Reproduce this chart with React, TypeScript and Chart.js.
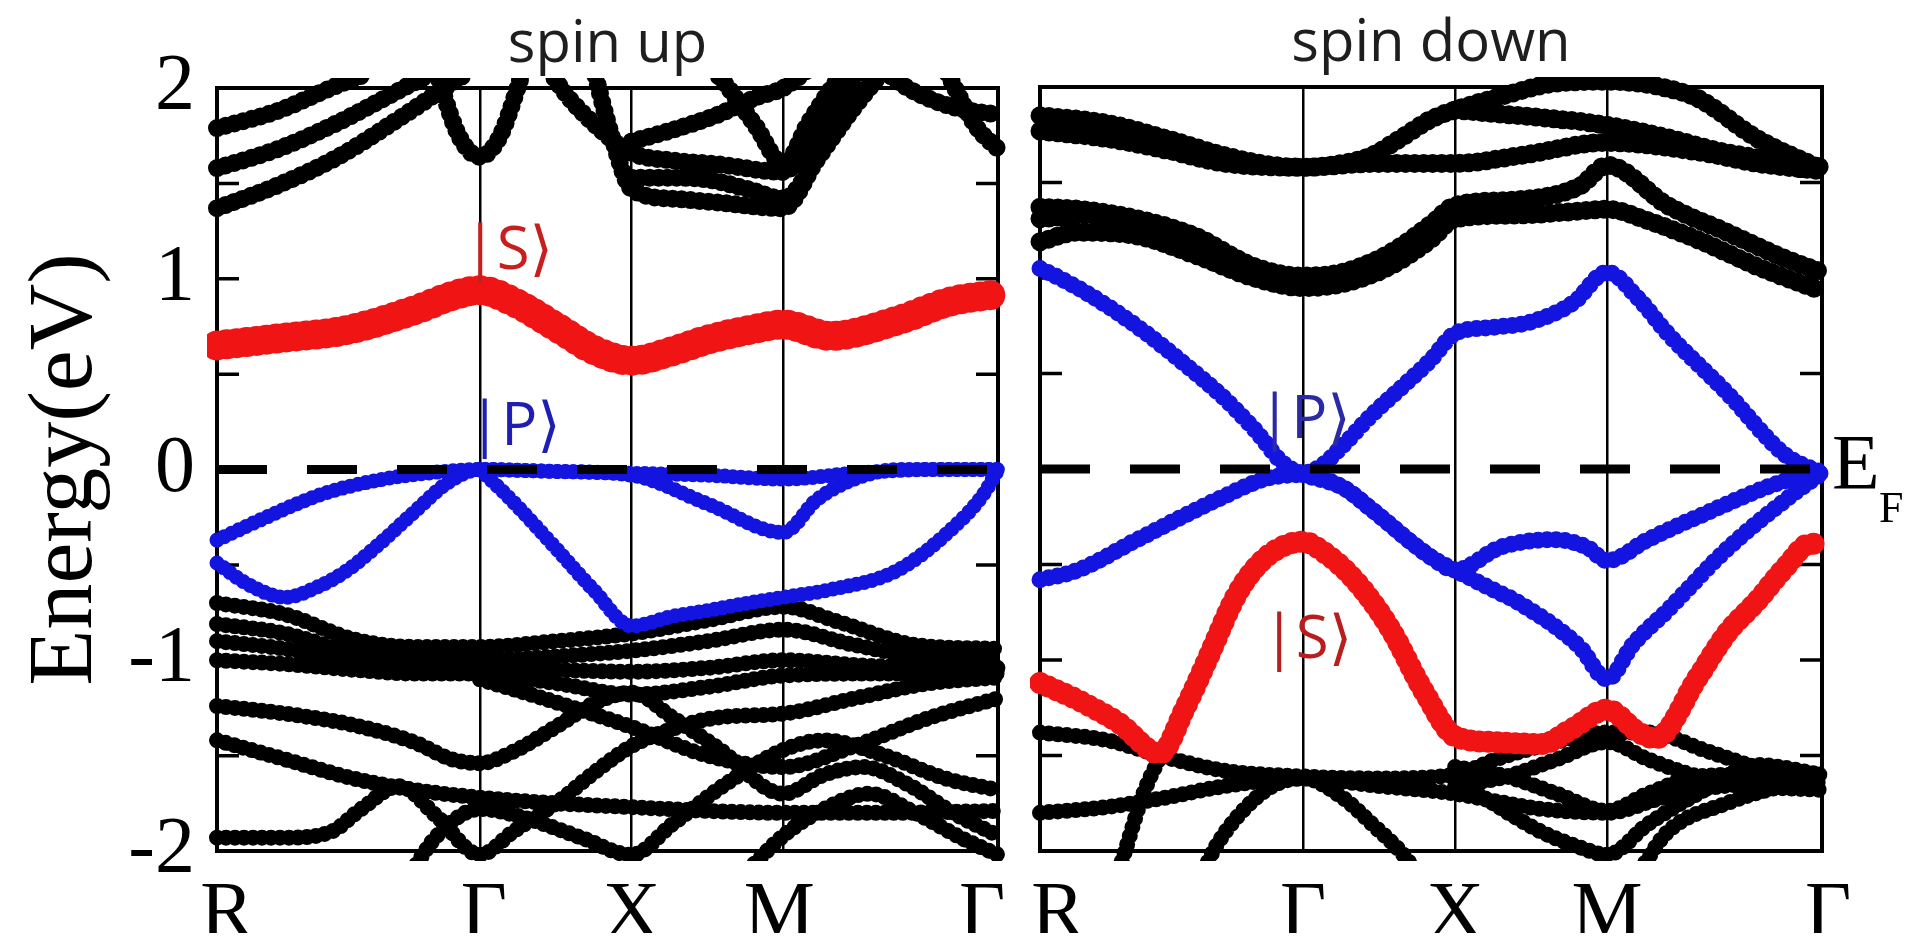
import React, { useEffect, useRef } from 'react';
import { Chart, registerables } from 'chart.js';

Chart.register(...registerables);

type Pt = [number, number];

// ---- axes ----
// k-path distances: R–Γ = √3, Γ–X = 1, X–M = 1, M–Γ = √2
const kTicks = [0, 1.732, 2.732, 3.732, 5.146];
const kLabels = ['R', 'Γ', 'X', 'M', 'Γ'];
const eTicks = [-2, -1.5, -1, -0.5, 0, 0.5, 1, 1.5, 2];
const eLabelled = [-2, -1, 0, 1, 2];

// ---- spin up ----
const upS: Pt[] = [[0,0.65],[0.43,0.69],[0.85,0.73],[1.32,0.84],[1.55,0.91],[1.732,0.94],[1.95,0.88],[2.23,0.75],[2.5,0.62],[2.732,0.57],[3.0,0.62],[3.23,0.68],[3.5,0.73],[3.732,0.76],[4.04,0.70],[4.48,0.78],[4.83,0.88],[5.146,0.92]];
const upP1: Pt[] = [[0,-0.37],[0.27,-0.27],[0.69,-0.13],[1.1,-0.05],[1.5,-0.01],[1.732,0],[2.232,-0.01],[2.732,-0.02],[3.232,-0.03],[3.732,-0.05],[4.2,-0.02],[4.7,0],[5.146,0]];
const upP2: Pt[] = [[0,-0.49],[0.2,-0.6],[0.45,-0.67],[0.65,-0.62],[0.855,-0.53],[1.07,-0.39],[1.29,-0.23],[1.52,-0.07],[1.732,0],[2.232,-0.01],[2.732,-0.03],[3.232,-0.18],[3.732,-0.33],[3.95,-0.16],[4.2,-0.05],[4.5,0],[5.146,0]];
const upP3: Pt[] = [[1.732,0],[1.94,-0.16],[2.23,-0.41],[2.48,-0.63],[2.732,-0.82],[3.0,-0.77],[3.232,-0.74],[3.5,-0.7],[3.732,-0.67],[4.04,-0.63],[4.48,-0.53],[4.83,-0.32],[5.05,-0.13],[5.146,0]];

const upT1: Pt[] = [[0,1.79],[0.4,1.88],[0.75,2.0],[1.0,2.08]];
const upT2: Pt[] = [[0,1.58],[0.4,1.68],[0.8,1.82],[1.23,2.0],[1.4,2.07]];
const upT3: Pt[] = [[0,1.37],[0.4,1.49],[0.8,1.64],[1.2,1.84],[1.5,2.0],[1.65,2.08]];
const upT4: Pt[] = [[1.3,2.5],[1.48,2.0],[1.6,1.74],[1.732,1.64],[1.86,1.74],[1.98,2.0],[2.15,2.45]];
const upT5: Pt[] = [[2.05,2.3],[2.25,2.02],[2.5,1.8],[2.732,1.66],[3.0,1.62],[3.3,1.6],[3.732,1.56],[3.95,1.78],[4.15,2.0],[4.35,2.2]];
const upT6: Pt[] = [[2.45,2.2],[2.6,1.75],[2.732,1.47],[3.0,1.42],[3.3,1.40],[3.732,1.37],[3.95,1.62],[4.2,1.9],[4.35,2.05],[4.5,2.2]];
const upT7: Pt[] = [[2.732,1.53],[3.0,1.53],[3.232,1.52],[3.5,1.47],[3.732,1.42],[4.0,1.7],[4.2,1.92],[4.4,2.1]];
const upT8: Pt[] = [[3.15,2.2],[3.35,2.02],[3.55,1.8],[3.732,1.6],[3.9,1.82],[4.05,2.0],[4.2,2.15]];
const upT9: Pt[] = [[2.732,1.72],[3.0,1.78],[3.3,1.86],[3.55,1.95],[3.732,2.0],[3.9,2.1]];
const upT10: Pt[] = [[4.55,2.5],[4.85,2.02],[5.0,1.8],[5.146,1.68]];
const upT11: Pt[] = [[4.3,2.15],[4.55,2.0],[4.85,1.9],[5.146,1.86]];

const upL1: Pt[] = [[0,-0.70],[0.45,-0.76],[0.9,-0.89],[1.3,-0.93],[1.732,-0.93],[2.232,-0.9],[2.732,-0.86],[3.232,-0.79],[3.732,-0.72],[4.1,-0.8],[4.6,-0.92],[5.146,-0.94]];
const upL2: Pt[] = [[0,-0.81],[0.45,-0.86],[0.9,-0.96],[1.3,-0.99],[1.732,-1.0],[2.232,-0.98],[2.732,-0.95],[3.232,-0.9],[3.732,-0.84],[4.2,-0.92],[4.7,-0.99],[5.146,-1.0]];
const upL3: Pt[] = [[0,-0.90],[0.45,-0.94],[0.9,-1.0],[1.3,-1.03],[1.732,-1.03],[2.232,-1.05],[2.732,-1.06],[3.232,-1.04],[3.732,-1.0],[4.3,-1.03],[5.146,-1.04]];
const upL4: Pt[] = [[0,-1.0],[0.45,-1.02],[0.9,-1.05],[1.3,-1.07],[1.732,-1.07],[2.232,-1.12],[2.732,-1.18],[3.232,-1.14],[3.732,-1.08],[4.3,-1.07],[5.146,-1.07]];
const upL5: Pt[] = [[0,-1.24],[0.45,-1.28],[0.9,-1.34],[1.3,-1.43],[1.55,-1.52],[1.732,-1.54],[1.95,-1.48],[2.232,-1.35],[2.5,-1.22],[2.732,-1.17],[3.0,-1.3],[3.3,-1.46],[3.732,-1.7],[4.0,-1.6],[4.26,-1.56],[4.55,-1.65],[4.85,-1.8],[5.146,-1.92]];
const upL6: Pt[] = [[0,-1.42],[0.45,-1.52],[0.9,-1.62],[1.3,-1.68],[1.732,-1.72],[2.232,-1.75],[2.732,-1.77],[3.232,-1.79],[3.732,-1.8],[4.4,-1.8],[5.146,-1.79]];
const upL7: Pt[] = [[0,-1.93],[0.45,-1.93],[0.75,-1.9],[0.95,-1.78],[1.2,-1.66],[1.45,-1.82],[1.732,-2.02],[1.95,-1.9],[2.25,-1.74],[2.5,-1.58],[2.732,-1.45],[3.0,-1.36],[3.3,-1.3],[3.732,-1.28],[4.2,-1.2],[4.7,-1.12],[5.146,-1.09]];
const upL8: Pt[] = [[1.25,-2.15],[1.45,-1.92],[1.732,-1.78],[2.0,-1.82],[2.4,-1.93],[2.732,-2.02],[3.0,-1.86],[3.35,-1.65],[3.732,-1.47],[4.0,-1.42],[4.4,-1.5],[4.8,-1.62],[5.146,-1.68]];
const upL9: Pt[] = [[3.5,-2.1],[3.732,-1.92],[4.0,-1.78],[4.3,-1.7],[4.6,-1.8],[4.9,-1.93],[5.146,-2.02]];
const upL10: Pt[] = [[1.732,-1.1],[2.232,-1.22],[2.732,-1.35],[3.232,-1.5],[3.732,-1.56],[4.2,-1.45],[4.7,-1.3],[5.146,-1.2]];

// ---- spin down ----
const dnS: Pt[] = [[0,-1.12],[0.25,-1.21],[0.52,-1.33],[0.79,-1.49],[0.95,-1.26],[1.10,-1.0],[1.30,-0.65],[1.49,-0.46],[1.732,-0.38],[1.84,-0.42],[2.07,-0.58],[2.30,-0.83],[2.53,-1.17],[2.732,-1.40],[3.0,-1.43],[3.3,-1.44],[3.5,-1.36],[3.732,-1.26],[3.94,-1.38],[4.05,-1.41],[4.33,-1.09],[4.52,-0.86],[4.72,-0.69],[4.91,-0.51],[5.07,-0.39],[5.146,-0.4]];
const dnP1: Pt[] = [[0,1.05],[0.2,0.97],[0.45,0.85],[0.7,0.71],[0.95,0.55],[1.2,0.38],[1.42,0.2],[1.6,0.03],[1.732,-0.02],[1.84,0.01],[1.99,0.12],[2.18,0.28],[2.37,0.42],[2.57,0.57],[2.732,0.71],[2.96,0.74],[3.23,0.77],[3.51,0.87],[3.732,1.03],[3.94,0.89],[4.13,0.71],[4.52,0.40],[4.91,0.07],[5.146,-0.02]];
const dnP2: Pt[] = [[0,-0.58],[0.25,-0.53],[0.64,-0.37],[1.22,-0.14],[1.49,-0.05],[1.732,-0.03],[2.0,-0.1],[2.18,-0.21],[2.57,-0.46],[2.732,-0.53],[3.03,-0.41],[3.39,-0.37],[3.6,-0.41],[3.732,-0.48],[4.0,-0.37],[4.33,-0.25],[4.91,-0.06],[5.146,-0.02]];
const dnP3: Pt[] = [[1.732,-0.03],[2.0,-0.1],[2.18,-0.21],[2.57,-0.46],[2.732,-0.53],[2.95,-0.62],[3.15,-0.70],[3.55,-0.93],[3.732,-1.10],[3.9,-0.92],[4.13,-0.74],[4.52,-0.42],[4.91,-0.16],[5.146,-0.02]];

const dnT1: Pt[] = [[0,1.85],[0.44,1.81],[0.83,1.73],[1.22,1.64],[1.53,1.59],[1.732,1.58],[1.99,1.60],[2.18,1.64],[2.37,1.73],[2.57,1.83],[2.732,1.88],[3.03,1.95],[3.39,2.02],[3.732,2.03],[4.09,2.0],[4.33,1.94],[4.72,1.73],[5.146,1.57]];
const dnT2: Pt[] = [[0,1.77],[0.44,1.73],[0.83,1.67],[1.22,1.60],[1.732,1.58],[2.2,1.60],[2.732,1.60],[3.15,1.64],[3.732,1.71],[4.33,1.66],[4.72,1.60],[5.146,1.56]];
const dnT3: Pt[] = [[2.732,1.88],[3.0,1.86],[3.3,1.84],[3.732,1.80],[4.1,1.74],[4.5,1.66],[5.146,1.58]];
const dnT4: Pt[] = [[0,1.37],[0.25,1.36],[0.64,1.31],[1.02,1.22],[1.41,1.06],[1.732,1.01],[1.99,1.03],[2.30,1.13],[2.57,1.28],[2.732,1.38],[3.15,1.41],[3.55,1.48],[3.732,1.59],[4.13,1.38],[4.52,1.24],[4.91,1.10],[5.146,1.03]];
const dnT5: Pt[] = [[0,1.19],[0.25,1.24],[0.64,1.22],[1.02,1.12],[1.41,1.0],[1.732,0.95],[1.99,0.97],[2.30,1.06],[2.57,1.2],[2.732,1.31],[3.15,1.33],[3.55,1.35],[3.732,1.36],[4.0,1.3],[4.33,1.20],[4.72,1.06],[5.146,0.93]];
const dnT6: Pt[] = [[0,1.31],[0.3,1.33],[0.64,1.28],[1.02,1.17],[1.41,1.03],[1.732,0.98],[2.0,1.0],[2.3,1.1]];

const dnL1: Pt[] = [[0,-1.38],[0.44,-1.42],[0.83,-1.51],[1.22,-1.58],[1.732,-1.61],[2.232,-1.62],[2.732,-1.6],[3.0,-1.52],[3.3,-1.45],[3.732,-1.38],[4.0,-1.38],[4.4,-1.48],[4.8,-1.58],[5.146,-1.62]];
const dnL2: Pt[] = [[0,-1.80],[0.44,-1.77],[0.83,-1.72],[1.22,-1.66],[1.732,-1.62],[2.232,-1.66],[2.732,-1.7],[3.0,-1.74],[3.3,-1.78],[3.732,-1.8],[4.1,-1.72],[4.5,-1.66],[5.146,-1.64]];
const dnL3: Pt[] = [[0.52,-2.1],[0.56,-2.0],[0.68,-1.70],[0.8,-1.49]];
const dnL4: Pt[] = [[1.08,-2.1],[1.14,-2.0],[1.30,-1.82],[1.53,-1.66],[1.732,-1.62],[1.99,-1.72],[2.2,-1.87],[2.37,-2.0],[2.45,-2.08]];
const dnL5: Pt[] = [[2.732,-1.62],[3.0,-1.76],[3.3,-1.9],[3.55,-1.98],[3.732,-2.02],[4.0,-1.86],[4.33,-1.7],[4.72,-1.55],[5.146,-1.6]];
const dnL6: Pt[] = [[2.732,-1.66],[3.07,-1.61],[3.4,-1.52],[3.732,-1.43],[4.0,-1.52],[4.33,-1.61],[4.7,-1.66],[5.146,-1.68]];
const dnL7: Pt[] = [[2.732,-1.56],[3.07,-1.61],[3.4,-1.70],[3.732,-1.79],[4.0,-1.70],[4.33,-1.61],[4.7,-1.6],[5.146,-1.6]];
const dnL8: Pt[] = [[3.95,-2.1],[4.13,-1.9],[4.52,-1.75],[4.9,-1.66],[5.146,-1.64]];

// ---- annotations (text only) ----
const upNotes = [
  { text: '|S⟩', k: 1.92, e: 1.14, color: '#c81e1e' },
  { text: '|P⟩', k: 1.96, e: 0.22, color: '#1e1eb4' },
];
const dnNotes = [
  { text: '|P⟩', k: 1.74, e: 0.25, color: '#2a2aa6' },
  { text: '|S⟩', k: 1.76, e: -0.9, color: '#b81e1e' },
];

const SERIF = '"Liberation Serif", "Times New Roman", serif';
const SANS = '"Open Sans", "DejaVu Sans", sans-serif';

const decoPlugin = {
  id: 'deco',
  beforeDatasetsDraw(chart: any) {
    const { ctx, chartArea: a, scales } = chart;
    const y = scales.y;
    ctx.save();
    ctx.strokeStyle = '#000';
    ctx.lineWidth = 4;
    ctx.strokeRect(a.left, a.top, a.right - a.left, a.bottom - a.top);
    ctx.lineWidth = 3.5;
    ctx.beginPath();
    for (const v of eTicks) {
      if (v === eTicks[0] || v === eTicks[eTicks.length - 1]) continue;
      const py = y.getPixelForValue(v);
      ctx.moveTo(a.left, py); ctx.lineTo(a.left + 22, py);
      ctx.moveTo(a.right - 22, py); ctx.lineTo(a.right, py);
    }
    ctx.stroke();
    ctx.restore();
  },
  afterDatasetsDraw(chart: any, _args: any, opts: any) {
    const { ctx, chartArea: a, scales } = chart;
    const x = scales.x, y = scales.y;
    const y0 = y.getPixelForValue(0);
    ctx.save();
    ctx.beginPath();
    ctx.setLineDash([50, 40]);
    ctx.lineWidth = 9;
    ctx.strokeStyle = '#000';
    ctx.moveTo(a.left, y0);
    ctx.lineTo(a.right, y0);
    ctx.stroke();
    ctx.setLineDash([]);

    ctx.fillStyle = '#1e1e1e';
    ctx.font = `58px ${SANS}`;
    ctx.textAlign = 'center';
    ctx.textBaseline = 'alphabetic';
    ctx.fillText(opts.title, (a.left + a.right) / 2, a.top - 26);

    ctx.font = `60px ${SANS}`;
    ctx.textBaseline = 'middle';
    for (const n of opts.notes) {
      ctx.fillStyle = n.color;
      ctx.fillText(n.text, x.getPixelForValue(n.k), y.getPixelForValue(n.e));
    }

    // k-point labels under the frame
    ctx.fillStyle = '#000';
    ctx.font = `80px ${SERIF}`;
    ctx.textAlign = 'center';
    ctx.textBaseline = 'alphabetic';
    kTicks.forEach((k, i) => {
      ctx.fillText(kLabels[i], x.getPixelForValue(k) + opts.labelShift[i], a.bottom + 86);
    });

    if (opts.fermi) {
      ctx.textAlign = 'left';
      ctx.font = `78px ${SERIF}`;
      ctx.fillText('E', a.right + 10, y0 + 19);
      ctx.font = `44px ${SERIF}`;
      ctx.fillText('F', a.right + 57, y0 + 53);
    }
    ctx.restore();
  },
};

function band(pts: Pt[], color: string, width: number, gap: number, order: number) {
  return {
    data: pts.map(([x, y]) => ({ x, y })),
    borderColor: color,
    borderWidth: width,
    borderDash: [0, gap],
    borderCapStyle: 'round',
    borderJoinStyle: 'round',
    pointRadius: 0,
    pointHoverRadius: 0,
    cubicInterpolationMode: 'monotone',
    fill: false,
    order,
    clip: 10,
  };
}

function makeConfig(left: boolean): any {
  const RED = '#f01414';
  const BLUE = '#1414e0';
  const datasets = left
    ? [
        band(upS, RED, 30, 10, 0),
        ...[upP1, upP2, upP3].map((b) => band(b, BLUE, 15, 8, 1)),
        ...[upT1, upT2, upT3, upT4, upT5, upT6, upT7, upT8, upT9, upT10, upT11].map((b) => band(b, '#000', 18, 9, 2)),
        ...[upL1, upL2, upL3, upL4, upL5, upL6, upL7, upL8, upL9, upL10].map((b) => band(b, '#000', 16, 9, 2)),
      ]
    : [
        band(dnS, RED, 22, 9, 0),
        ...[dnP1, dnP2, dnP3].map((b) => band(b, BLUE, 17, 9, 1)),
        ...[dnT1, dnT2, dnT3, dnT4, dnT5, dnT6].map((b) => band(b, '#000', 19, 9, 2)),
        ...[dnL1, dnL2, dnL3, dnL4, dnL5, dnL6, dnL7, dnL8].map((b) => band(b, '#000', 16, 9, 2)),
      ];
  return {
    type: 'line',
    data: { datasets },
    plugins: [decoPlugin],
    options: {
      animation: false,
      responsive: true,
      maintainAspectRatio: false,
      events: [],
      layout: { padding: left ? { top: 80, right: 40, left: 0, bottom: 0 } : { top: 79, right: 85, left: 0, bottom: 0 } },
      plugins: {
        legend: { display: false },
        tooltip: { enabled: false },
        deco: left
          ? { title: 'spin up', notes: upNotes, fermi: false, labelShift: [10, 4, 0, -4, -16] }
          : { title: 'spin down', notes: dnNotes, fermi: true, labelShift: [18, 0, 0, 0, 6] },
      },
      scales: {
        x: {
          type: 'linear',
          min: kTicks[0],
          max: kTicks[kTicks.length - 1],
          afterBuildTicks: (s: any) => { s.ticks = kTicks.map((v) => ({ value: v })); },
          afterFit: (s: any) => { s.height = 82; },
          ticks: { display: false },
          grid: { color: '#000', lineWidth: 2.5, drawTicks: false },
          border: { display: false },
        },
        y: {
          type: 'linear',
          min: eTicks[0],
          max: eTicks[eTicks.length - 1],
          afterBuildTicks: (s: any) => { s.ticks = eTicks.map((v) => ({ value: v })); },
          afterFit: (s: any) => { s.width = left ? 209 : 40; },
          ticks: {
            display: left,
            autoSkip: false,
            padding: 14,
            color: '#000',
            font: { family: SERIF, size: 80 },
            callback: (v: number) => (eLabelled.includes(v) ? String(v) : ''),
          },
          title: {
            display: left,
            text: 'Energy(eV)',
            color: '#000',
            font: { family: SERIF, size: 92 },
            padding: { top: 4, bottom: 0 },
          },
          grid: { display: false },
          border: { display: false },
        },
      },
    },
  };
}

function BandPanel({ left, width, isLeft }: { left: number; width: number; isLeft: boolean }) {
  const ref = useRef<HTMLCanvasElement>(null);
  useEffect(() => {
    const chart = new Chart(ref.current as HTMLCanvasElement, makeConfig(isLeft));
    return () => chart.destroy();
  }, [isLeft]);
  return (
    <div style={{ position: 'absolute', left, top: 0, width, height: 925 }}>
      <canvas ref={ref} />
    </div>
  );
}

export default function App() {
  return (
    <div style={{ position: 'relative', width: 1899, height: 925, background: '#fff' }}>
      <BandPanel left={0} width={1030} isLeft={true} />
      <BandPanel left={992} width={907} isLeft={false} />
    </div>
  );
}
